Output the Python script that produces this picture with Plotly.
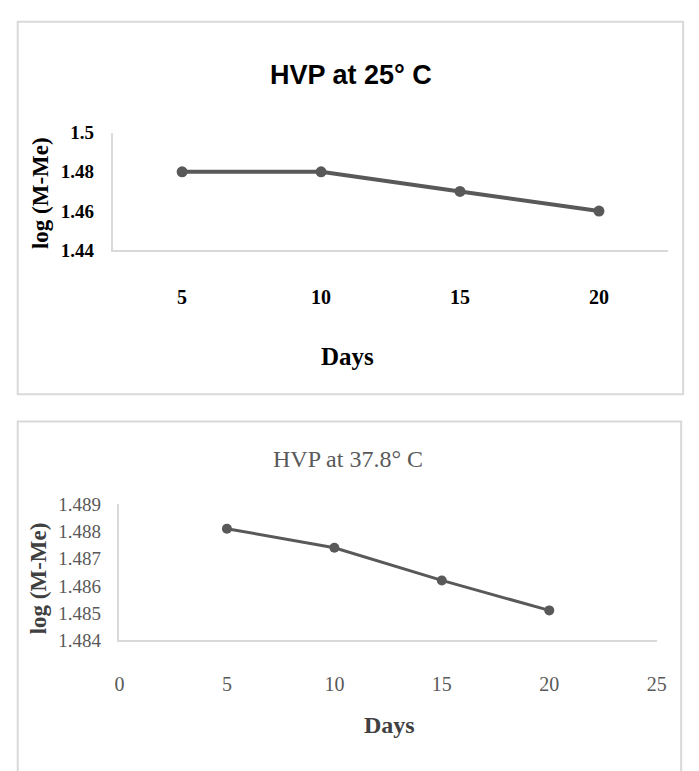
import plotly.graph_objects as go

# ---- data ----
days_top = ["5", "10", "15", "20"]
log_top = [1.48, 1.48, 1.47, 1.46]

days_bottom = [5, 10, 15, 20]
log_bottom = [1.4881, 1.4874, 1.4862, 1.4851]

title_top = "HVP at 25° C"
title_bottom = "HVP at 37.8° C"
ytitle = "log (M-Me)"
xtitle = "Days"

W, H = 699, 771

def px(x):
    return x / W

def py(y):
    return 1 - y / H

LINE = "#595959"
AX = "#d9d9d9"
SERIF = "Liberation Serif, Times New Roman, serif"

fig = go.Figure()
fig.add_trace(go.Scatter(
    x=days_top, y=log_top, mode="lines+markers", xaxis="x", yaxis="y",
    line=dict(color=LINE, width=4), marker=dict(color=LINE, size=11),
    showlegend=False, cliponaxis=False, hoverinfo="skip"))
fig.add_trace(go.Scatter(
    x=days_bottom, y=log_bottom, mode="lines+markers", xaxis="x2", yaxis="y2",
    line=dict(color=LINE, width=3), marker=dict(color=LINE, size=10),
    showlegend=False, cliponaxis=False, hoverinfo="skip"))

common = dict(showgrid=False, zeroline=False, showline=True, linecolor=AX,
              linewidth=1.5, ticks="")

fig.update_layout(
    width=W, height=H, margin=dict(l=0, r=0, t=0, b=0),
    paper_bgcolor="white", plot_bgcolor="white",
    xaxis=dict(domain=[px(110), px(678)], anchor="y", type="category",
               range=[-0.5, 3.5], tickfont=dict(family=SERIF, size=20, color="black", weight="bold"),
               ticklabelstandoff=28, **common),
    yaxis=dict(domain=[py(247), py(126)], anchor="x", range=[1.44, 1.5], dtick=0.02,
               tickfont=dict(family=SERIF, size=19, color="black", weight="bold"),
               ticklabelstandoff=13, **common),
    xaxis2=dict(domain=[px(117), px(666)], anchor="y2", range=[0, 25], dtick=5,
                tickfont=dict(family=SERIF, size=20, color=LINE),
                ticklabelstandoff=25, **common),
    yaxis2=dict(domain=[py(648), py(508)], anchor="x2", range=[1.484, 1.489], dtick=0.001,
                tickformat=".3f", tickfont=dict(family=SERIF, size=19, color=LINE),
                ticklabelstandoff=13, **common),
)

# frames around each chart
fig.add_shape(type="rect", xref="paper", yref="paper",
              x0=px(13), x1=px(693), y0=py(395), y1=py(12),
              line=dict(color=AX, width=2))
fig.add_shape(type="rect", xref="paper", yref="paper",
              x0=px(13), x1=px(691), y0=py(785), y1=py(423),
              line=dict(color=AX, width=2))

ann = []
ann.append(dict(text=title_top, x=px(354), y=py(67), xref="paper", yref="paper",
                showarrow=False, xanchor="center", yanchor="middle",
                font=dict(family="Liberation Sans Narrow, Arial Narrow, Liberation Sans, sans-serif",
                          size=27, color="black", weight="bold")))
ann.append(dict(text=title_bottom, x=px(351), y=py(462), xref="paper", yref="paper",
                showarrow=False, xanchor="center", yanchor="middle",
                font=dict(family=SERIF, size=24, color=LINE)))
ann.append(dict(text=ytitle, x=px(37), y=py(188), xref="paper", yref="paper",
                showarrow=False, textangle=-90, xanchor="center", yanchor="middle",
                font=dict(family=SERIF, size=23, color="black", weight="bold")))
ann.append(dict(text=ytitle, x=px(34), y=py(584), xref="paper", yref="paper",
                showarrow=False, textangle=-90, xanchor="center", yanchor="middle",
                font=dict(family=SERIF, size=23, color="#404040", weight="bold")))
ann.append(dict(text=xtitle, x=px(350), y=py(356), xref="paper", yref="paper",
                showarrow=False, xanchor="center", yanchor="middle",
                font=dict(family=SERIF, size=25, color="black", weight="bold")))
ann.append(dict(text=xtitle, x=px(393), y=py(735), xref="paper", yref="paper",
                showarrow=False, xanchor="center", yanchor="middle",
                font=dict(family=SERIF, size=24, color="#404040", weight="bold")))
fig.update_layout(annotations=ann)

fig.write_html("out.html", config={"displayModeBar": False},
               post_script="document.body.style.margin='0';")
